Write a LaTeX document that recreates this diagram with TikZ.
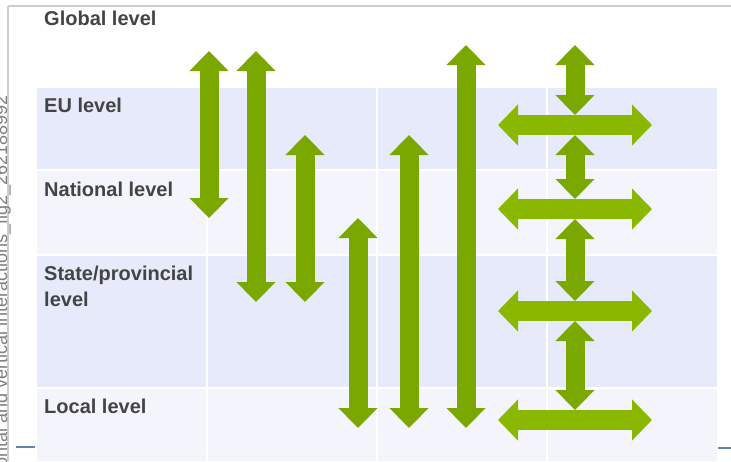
\documentclass[tikz,border=0pt]{standalone}
\usepackage{fontspec}
\setsansfont{Liberation Sans}
\usetikzlibrary{arrows.meta}
\definecolor{bandA}{RGB}{230,234,250}
\definecolor{bandB}{RGB}{243,244,252}
\definecolor{vgreen}{RGB}{122,168,0}
\definecolor{hgreen}{RGB}{138,184,0}
\definecolor{labelgray}{RGB}{68,68,68}
\definecolor{rulegray}{RGB}{205,205,205}
\definecolor{axisblue}{RGB}{100,130,175}

\begin{document}
\begin{tikzpicture}[x=1pt,y=-1pt,
  level/.style={anchor=base west,inner sep=0pt,text=labelgray,align=left,
    font=\sffamily\bfseries\fontsize{20}{26}\selectfont},
  vlink/.style={draw=vgreen,line width=19pt,
    {Triangle[width=38pt,length=20pt]}-{Triangle[width=38pt,length=20pt]}},
  hlink/.style={draw=hgreen,line width=20pt,
    {Triangle[width=40pt,length=20pt]}-{Triangle[width=40pt,length=20pt]}}]
  \useasboundingbox (0,0) rectangle (731,461);
  \fill[white] (0,0) rectangle (731,461);

  \fill[bandA] (37,88) rectangle (717,170);
  \fill[bandB] (37,170) rectangle (717,255);
  \fill[bandA] (37,255) rectangle (717,388);
  \fill[bandB] (37,388) rectangle (717,461);
  \foreach \x in {207,377,547}
    \draw[white,line width=1.2pt] (\x,88) -- (\x,461);
  \foreach \y in {170,255,388}
    \draw[white,line width=1.2pt] (37,\y) -- (717,\y);

  \draw[rulegray,line width=2pt] (8,6) -- (731,6);
  \draw[rulegray,line width=1.5pt] (8,6) -- (8,461);
  \draw[axisblue,line width=1.5pt] (16,447) -- (35,447);
  \draw[axisblue,line width=1.5pt] (718,448) -- (731,448);
  \node[rotate=90,anchor=base east,inner sep=0pt,text=gray,
    font=\sffamily\fontsize{18}{18}\selectfont] (source) at (7,95)
    {ontal and vertical interactions\_fig2\_262188992};

  \node[level] (global) at (44,25) {Global level};
  \node[level] (eu) at (44,112) {EU level};
  \node[level] (national) at (44,196) {National level};
  \node[level] (state) at (44,306) {State/provincial\\level};
  \node[level] (local) at (44,413) {Local level};

  \foreach \i/\x/\t/\b in {1/209/51/218,2/256/51/302,3/305/135/302,
                            4/358/218/428,5/409/135/428,6/466/45/428}{
    \coordinate (up\i) at (\x,\t);
    \coordinate (dn\i) at (\x,\b);
    \draw[vlink] (up\i) -- (dn\i);
  }

  \foreach \i/\t/\b in {1/45/115,2/135/199,3/219/301,4/321/410}{
    \coordinate (s\i) at (575,\t);
    \coordinate (t\i) at (575,\b);
    \draw[vlink] (s\i) -- (t\i);
  }
  \foreach \i/\y in {1/125,2/209,3/311,4/420}{
    \coordinate (w\i) at (498,\y);
    \coordinate (e\i) at (652,\y);
    \draw[hlink] (w\i) -- (e\i);
  }
\end{tikzpicture}
\end{document}
